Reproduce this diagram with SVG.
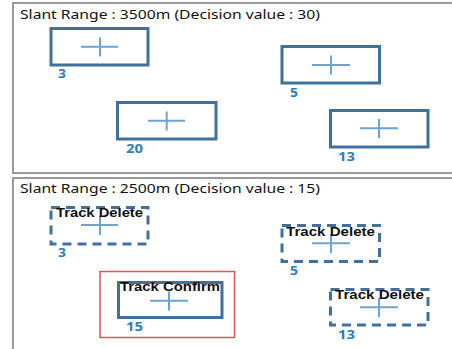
<svg xmlns="http://www.w3.org/2000/svg" width="452" height="349" viewBox="0 0 452 349">
<style>
.panel{fill:#fff;stroke:#9a9a9a;stroke-width:2}
.title{font-family:"Noto Sans","Open Sans",sans-serif;font-size:13px;fill:#111}
.box{fill:none;stroke:#41709f;stroke-width:3}
.dash{stroke-dasharray:9 6}
.cross{stroke:#6ea2d6;stroke-width:2;fill:none}
.num{font-family:"Noto Sans","Open Sans",sans-serif;font-size:12px;font-weight:bold;fill:#2e7bbf}
.tag{font-family:"Liberation Sans","Noto Sans",sans-serif;font-size:12px;font-weight:bold;fill:#111}
.sel{fill:none;stroke:#e05555;stroke-width:1.5}
</style>
<rect x="0" y="0" width="452" height="349" fill="#fff"/>
<g id="panel-top">
<rect class="panel" x="13" y="3" width="441" height="170"/>
<text class="title" x="20" y="19" textLength="300" lengthAdjust="spacingAndGlyphs">Slant Range : 3500m (Decision value : 30)</text>
</g>
<g id="panel-bottom">
<rect class="panel" x="13" y="178" width="441" height="180"/>
<text class="title" x="20" y="193" textLength="300" lengthAdjust="spacingAndGlyphs">Slant Range : 2500m (Decision value : 15)</text>
</g>
<g id="t3">
<rect class="box" x="51" y="28.5" width="97" height="36.5"/>
<path class="cross" d="M81 46.7H118M100 37.5V56.5"/>
<text class="num" x="58" y="78" textLength="8" lengthAdjust="spacingAndGlyphs">3</text>
</g>
<g id="t20">
<rect class="box" x="117.5" y="102.5" width="98.5" height="36.5"/>
<path class="cross" d="M148 120.7H185M166.7 111.5V130.5"/>
<text class="num" x="126" y="153" textLength="17" lengthAdjust="spacingAndGlyphs">20</text>
</g>
<g id="t5">
<rect class="box" x="282" y="46.5" width="97.5" height="36.5"/>
<path class="cross" d="M312 65H350M331 55.5V74.5"/>
<text class="num" x="290" y="97" textLength="8" lengthAdjust="spacingAndGlyphs">5</text>
</g>
<g id="t13">
<rect class="box" x="330.5" y="110.5" width="97.5" height="36.5"/>
<path class="cross" d="M360 128.3H398M379 119V138"/>
<text class="num" x="338" y="161" textLength="17" lengthAdjust="spacingAndGlyphs">13</text>
</g>
<g id="b3">
<rect class="box dash" x="51" y="207.5" width="97" height="36.5"/>
<path class="cross" d="M81 225H118M100 216V235"/>
<text class="tag" x="56" y="216.5" textLength="87" lengthAdjust="spacingAndGlyphs">Track Delete</text>
<text class="num" x="58" y="257" textLength="8" lengthAdjust="spacingAndGlyphs">3</text>
</g>
<g id="b15">
<rect class="sel" x="100" y="271.5" width="134.5" height="66"/>
<rect class="box" x="118.5" y="282.5" width="103.5" height="35"/>
<path class="cross" d="M150 300.7H188M169 291.5V310.5"/>
<text class="tag" x="120" y="290.5" textLength="100" lengthAdjust="spacingAndGlyphs">Track Confirm</text>
<text class="num" x="126" y="331" textLength="17" lengthAdjust="spacingAndGlyphs">15</text>
</g>
<g id="b5">
<rect class="box dash" x="282" y="225.5" width="97.5" height="36"/>
<path class="cross" d="M312 243.3H350M331 234V253"/>
<text class="tag" x="286" y="235.5" textLength="89" lengthAdjust="spacingAndGlyphs">Track Delete</text>
<text class="num" x="290" y="275" textLength="8" lengthAdjust="spacingAndGlyphs">5</text>
</g>
<g id="b13">
<rect class="box dash" x="330.5" y="289.5" width="97.5" height="35.5"/>
<path class="cross" d="M360 307.3H398M379 298V317"/>
<text class="tag" x="335" y="299" textLength="89" lengthAdjust="spacingAndGlyphs">Track Delete</text>
<text class="num" x="338" y="339" textLength="17" lengthAdjust="spacingAndGlyphs">13</text>
</g>
<g id="connectors"></g>
</svg>
